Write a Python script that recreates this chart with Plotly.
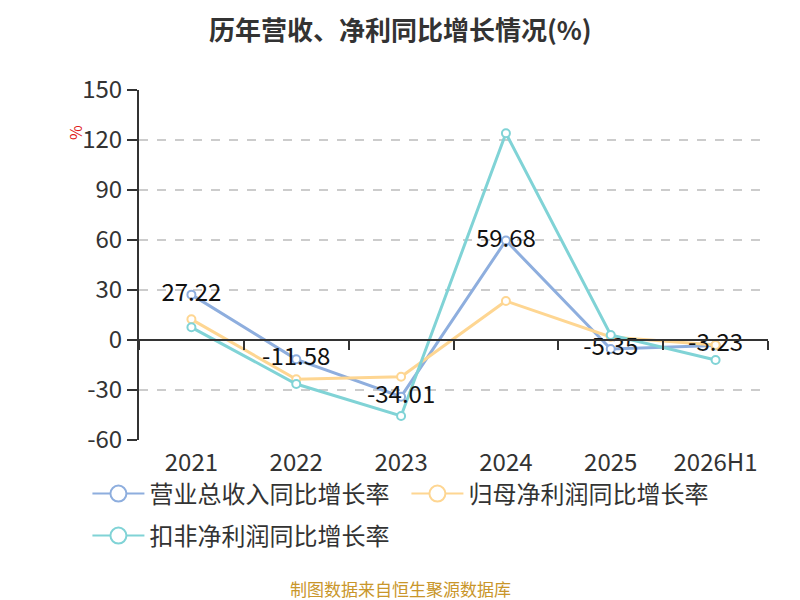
import plotly.graph_objects as go

categories = ["2021", "2022", "2023", "2024", "2025", "2026H1"]
revenue = [27.22, -11.58, -34.01, 59.68, -5.35, -3.23]
net_profit = [12.4, -23.6, -22.0, 23.4, 1.8, -3.0]
deducted = [7.6, -26.4, -45.6, 124.0, 3.0, -12.0]
names = ["营业总收入同比增长率", "归母净利润同比增长率", "扣非净利润同比增长率"]
colors = ["#8eaede", "#fed692", "#80d3d6"]
y_ticks = [-60, -30, 0, 30, 60, 90, 120, 150]

FONT = "Noto Sans CJK SC"
Y_MIN, Y_MAX = -60, 150

fig = go.Figure()

series = [revenue, net_profit, deducted]
for vals, nm, col in zip(series, names, colors):
    fig.add_trace(go.Scatter(
        x=categories, y=vals, name=nm, mode="lines+markers",
        line=dict(color=col, width=3),
        marker=dict(symbol="circle", size=8, color="white", line=dict(color=col, width=2)),
        showlegend=False, hoverinfo="skip", cliponaxis=False,
    ))

fig.add_trace(go.Scatter(
    x=categories, y=revenue, mode="text",
    text=[f"{v:.2f}" for v in revenue], textposition="middle center",
    textfont=dict(size=24, color="#111111", family=FONT),
    showlegend=False, hoverinfo="skip", cliponaxis=False,
))

# legend-only traces
for i, (nm, col) in enumerate(zip(names, colors)):
    fig.add_trace(go.Scatter(
        x=[None], y=[None], name=nm, mode="lines+markers",
        line=dict(color=col, width=2),
        marker=dict(symbol="circle", size=16, color="white", line=dict(color=col, width=2)),
        legend="legend" if i < 2 else "legend2",
    ))

# invisible trace to carry the zero-line axis
fig.add_trace(go.Scatter(
    x=list(range(len(categories))), y=revenue, xaxis="x2", mode="markers",
    marker=dict(opacity=0), showlegend=False, hoverinfo="skip",
))

zero_pos = (0 - Y_MIN) / (Y_MAX - Y_MIN)

fig.update_layout(
    width=800, height=600,
    margin=dict(l=131, r=40, t=82, b=168),
    paper_bgcolor="white", plot_bgcolor="white",
    font=dict(family=FONT, color="#333333"),
    annotations=[
        dict(text="<b>历年营收、净利同比增长情况(%)</b>", xref="paper", yref="paper",
             x=(400 - 139) / 629, y=(440 - 28) / 350, xanchor="center", yanchor="middle",
             showarrow=False, font=dict(size=26, color="#333333", family=FONT)),
        dict(text="%", xref="paper", yref="paper", x=(75 - 139) / 629, y=(440 - 133) / 350,
             xanchor="center", yanchor="middle",
             showarrow=False, textangle=-90, font=dict(size=16, color="#e02020")),
        dict(text="制图数据来自恒生聚源数据库", xref="paper", yref="paper",
             x=(400 - 139) / 629, y=(440 - 588) / 350, xanchor="center", yanchor="middle",
             showarrow=False, font=dict(size=17, color="#c9962a")),
    ],
    xaxis=dict(type="category", range=[-0.5, 5.5], showline=False, showgrid=False,
               ticks="", tickfont=dict(size=24, color="#333333"), ticklabelstandoff=6,
               zeroline=False, fixedrange=True),
    xaxis2=dict(overlaying="x", anchor="free", position=zero_pos, range=[-0.5, 5.5],
                showline=True, linecolor="#333333", linewidth=2, ticks="outside",
                tickmode="linear", tick0=-0.5, dtick=1, ticklen=9, tickwidth=2,
                tickcolor="#333333", showticklabels=False, showgrid=False, zeroline=False),
    yaxis=dict(range=[Y_MIN, Y_MAX], tickvals=y_ticks, ticktext=[str(v) for v in y_ticks],
               showline=True, linecolor="#333333",
               linewidth=2, ticks="outside", ticklen=10, tickwidth=1.5, tickcolor="#333333",
               tickfont=dict(size=24, color="#333333"), showgrid=True, gridcolor="#cccccc",
               griddash="dash", gridwidth=1.5, zeroline=False),
    legend=dict(orientation="h", x=-0.082, xanchor="left", y=-0.09, yanchor="top",
                font=dict(size=24, color="#333333"), itemwidth=52, entrywidth=252,
                bgcolor="rgba(0,0,0,0)"),
    legend2=dict(orientation="h", x=-0.082, xanchor="left", y=-0.21, yanchor="top",
                 font=dict(size=24, color="#333333"), itemwidth=52,
                 bgcolor="rgba(0,0,0,0)"),
)

fig.write_html("out.html")
